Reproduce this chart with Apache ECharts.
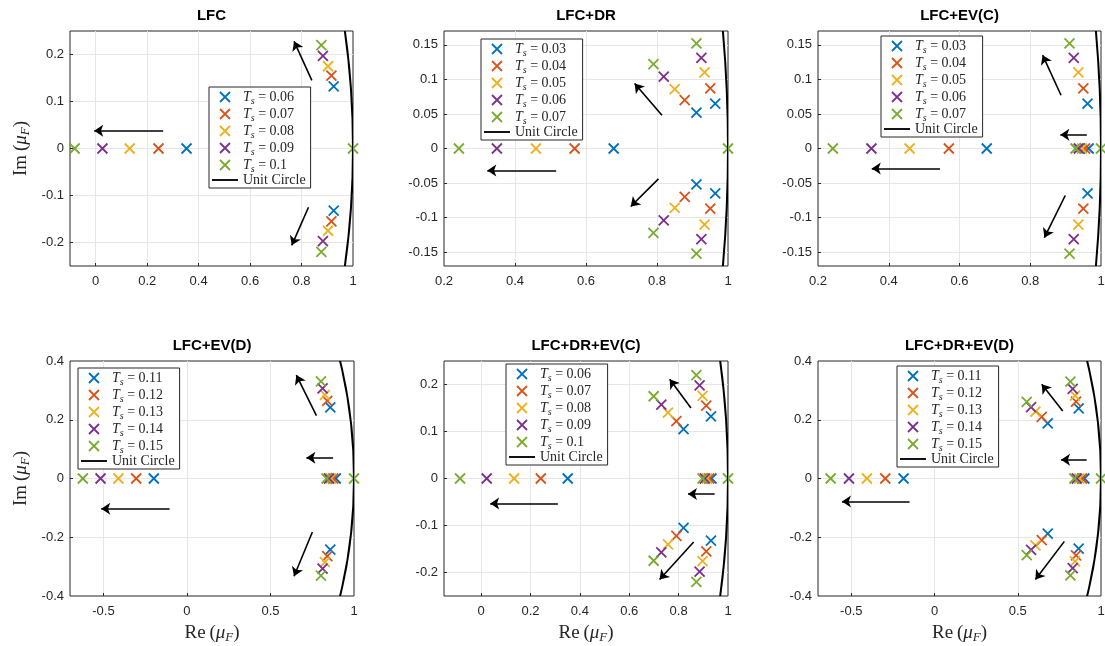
<!DOCTYPE html>
<html>
<head>
<meta charset="utf-8">
<script src="https://cdn.jsdelivr.net/npm/echarts@6/dist/echarts.min.js"></script>
<style>
  html, body { margin: 0; padding: 0; background: #fff; }
  #chart { width: 1105px; height: 646px; }
</style>
</head>
<body>
<div id="chart"></div>
<script>
// MATLAB default colour order
const colors = ['#0072BD', '#D95319', '#EDB120', '#7E2F8E', '#77AC30'];

const titles = ['LFC', 'LFC+DR', 'LFC+EV(C)', 'LFC+EV(D)', 'LFC+DR+EV(C)', 'LFC+DR+EV(D)'];

const tsLabels = [
  ['0.06', '0.07', '0.08', '0.09', '0.1'],
  ['0.03', '0.04', '0.05', '0.06', '0.07'],
  ['0.03', '0.04', '0.05', '0.06', '0.07'],
  ['0.11', '0.12', '0.13', '0.14', '0.15'],
  ['0.06', '0.07', '0.08', '0.09', '0.1'],
  ['0.11', '0.12', '0.13', '0.14', '0.15']
];

// poles [re, im] per Ts, in legend order
const polesLFC = [
  [[0.353, 0], [0.925, 0.132], [0.925, -0.132]],
  [[0.244, 0], [0.916, 0.155], [0.916, -0.155]],
  [[0.132, 0], [0.903, 0.175], [0.903, -0.175]],
  [[0.026, 0], [0.883, 0.197], [0.883, -0.197]],
  [[-0.082, 0], [0.877, 0.220], [0.877, -0.220], [1, 0]]
];
const polesLFCDR = [
  [[0.678, 0], [0.911, 0.052], [0.911, -0.052], [0.964, 0.065], [0.964, -0.065]],
  [[0.568, 0], [0.878, 0.070], [0.878, -0.070], [0.950, 0.087], [0.950, -0.087]],
  [[0.459, 0], [0.850, 0.086], [0.850, -0.086], [0.934, 0.110], [0.934, -0.110]],
  [[0.349, 0], [0.819, 0.104], [0.819, -0.104], [0.925, 0.131], [0.925, -0.131]],
  [[0.242, 0], [0.790, 0.122], [0.790, -0.122], [0.911, 0.152], [0.911, -0.152], [1, 0]]
];
const polesLFCEVC = [
  [[0.677, 0], [0.965, 0], [0.962, 0.065], [0.962, -0.065]],
  [[0.570, 0], [0.955, 0], [0.950, 0.087], [0.950, -0.087]],
  [[0.459, 0], [0.946, 0], [0.936, 0.110], [0.936, -0.110]],
  [[0.351, 0], [0.937, 0], [0.923, 0.131], [0.923, -0.131]],
  [[0.242, 0], [0.928, 0], [0.911, 0.152], [0.911, -0.152], [1, 0]]
];
const polesLFCEVD = [
  [[-0.198, 0], [0.891, 0], [0.858, 0.242], [0.858, -0.242]],
  [[-0.304, 0], [0.876, 0], [0.840, 0.264], [0.840, -0.264]],
  [[-0.410, 0], [0.862, 0], [0.826, 0.285], [0.826, -0.285]],
  [[-0.517, 0], [0.850, 0], [0.812, 0.307], [0.812, -0.307]],
  [[-0.623, 0], [0.836, 0], [0.802, 0.331], [0.802, -0.331], [1, 0]]
];
const polesLFCDREVC = [
  [[0.351, 0], [0.933, 0], [0.820, 0.105], [0.820, -0.105], [0.931, 0.132], [0.931, -0.132]],
  [[0.242, 0], [0.924, 0], [0.791, 0.122], [0.791, -0.122], [0.912, 0.155], [0.912, -0.155]],
  [[0.134, 0], [0.915, 0], [0.757, 0.140], [0.757, -0.140], [0.897, 0.176], [0.897, -0.176]],
  [[0.023, 0], [0.906, 0], [0.730, 0.157], [0.730, -0.157], [0.885, 0.198], [0.885, -0.198]],
  [[-0.085, 0], [0.897, 0], [0.699, 0.175], [0.699, -0.175], [0.872, 0.220], [0.872, -0.220], [1, 0]]
];
const polesLFCDREVD = [
  [[-0.186, 0], [0.900, 0], [0.680, 0.188], [0.680, -0.188], [0.866, 0.239], [0.866, -0.239]],
  [[-0.296, 0], [0.886, 0], [0.644, 0.210], [0.644, -0.210], [0.850, 0.262], [0.850, -0.262]],
  [[-0.406, 0], [0.870, 0], [0.606, 0.228], [0.606, -0.228], [0.844, 0.282], [0.844, -0.282]],
  [[-0.514, 0], [0.854, 0], [0.580, 0.243], [0.580, -0.243], [0.830, 0.305], [0.830, -0.305]],
  [[-0.624, 0], [0.840, 0], [0.554, 0.261], [0.554, -0.261], [0.816, 0.330], [0.816, -0.330], [1, 0]]
];
const poles = [polesLFC, polesLFCDR, polesLFCEVC, polesLFCEVD, polesLFCDREVC, polesLFCDREVD];

// annotation arrows [from, to] in data units
const arrows = [
  [[[0.840, 0.145], [0.771, 0.228]], [[0.827, -0.125], [0.762, -0.206]], [[0.262, 0.038], [-0.006, 0.038]]],
  [[[0.814, 0.048], [0.737, 0.094]], [[0.804, -0.044], [0.726, -0.084]], [[0.516, -0.032], [0.322, -0.032]]],
  [[[0.887, 0.077], [0.835, 0.135]], [[0.899, -0.068], [0.840, -0.129]], [[0.960, 0.020], [0.885, 0.020]], [[0.545, -0.029], [0.352, -0.029]]],
  [[[0.775, 0.214], [0.655, 0.352]], [[0.751, -0.182], [0.641, -0.333]], [[0.875, 0.071], [0.715, 0.071]], [[-0.104, -0.103], [-0.513, -0.103]]],
  [[[0.850, 0.150], [0.764, 0.211]], [[0.861, -0.135], [0.723, -0.215]], [[0.946, -0.033], [0.838, -0.033]], [[0.311, -0.053], [0.037, -0.053]]],
  [[[0.770, 0.230], [0.644, 0.321]], [[0.780, -0.214], [0.606, -0.344]], [[0.914, 0.064], [0.760, 0.064]], [[-0.150, -0.078], [-0.556, -0.078]]]
];

// unit circle: centre x, centre y, radius
const unitCircle = [[0, 0, 1]];

const xRanges = [[-0.1, 1], [0.2, 1], [0.2, 1], [-0.7, 1], [-0.15, 1], [-0.7, 1]];
const yRanges = [[-0.25, 0.25], [-0.17, 0.17], [-0.17, 0.17], [-0.4, 0.4], [-0.25, 0.25], [-0.4, 0.4]];
const xTicks = [
  [0, 0.2, 0.4, 0.6, 0.8, 1],
  [0.2, 0.4, 0.6, 0.8, 1],
  [0.2, 0.4, 0.6, 0.8, 1],
  [-0.5, 0, 0.5, 1],
  [0, 0.2, 0.4, 0.6, 0.8, 1],
  [-0.5, 0, 0.5, 1]
];
const yTicks = [
  [-0.2, -0.1, 0, 0.1, 0.2],
  [-0.15, -0.1, -0.05, 0, 0.05, 0.1, 0.15],
  [-0.15, -0.1, -0.05, 0, 0.05, 0.1, 0.15],
  [-0.4, -0.2, 0, 0.2, 0.4],
  [-0.2, -0.1, 0, 0.1, 0.2],
  [-0.4, -0.2, 0, 0.2, 0.4]
];

// layout
const grids = [
  { left: 70, top: 31, width: 283, height: 235 },
  { left: 444, top: 31, width: 284, height: 235 },
  { left: 818, top: 31, width: 283, height: 235 },
  { left: 70, top: 361, width: 284, height: 235 },
  { left: 444, top: 361, width: 284, height: 235 },
  { left: 818, top: 361, width: 283, height: 235 }
];
const legendPos = [[209, 87], [481, 39], [881, 36], [78, 368], [506, 364], [897, 366]];

const SERIF = "'Liberation Serif', 'DejaVu Serif', serif";
const SANS = "'Liberation Sans', Arial, sans-serif";
const AXIS_COLOR = '#262626';
const CROSS = 'path://M0 0L10 10M10 0L0 10';
const LINE_ICON = 'path://M0 0H28V2H0Z';

const inner = (vals, r) => vals.filter(v => v > r[0] + 1e-9 && v < r[1] - 1e-9);

const nameRich = {
  a: { fontFamily: SERIF, fontSize: 19, color: AXIS_COLOR, lineHeight: 22 },
  m: { fontFamily: SERIF, fontSize: 19, fontStyle: 'italic', color: AXIS_COLOR, lineHeight: 22 },
  f: { fontFamily: SERIF, fontSize: 13, fontStyle: 'italic', color: AXIS_COLOR, lineHeight: 12, padding: [10, 0, 0, 0] }
};

const option = {
  animation: false,
  backgroundColor: '#fff',
  title: [],
  grid: [],
  xAxis: [],
  yAxis: [],
  legend: [],
  series: []
};

grids.forEach((g, i) => {
  option.grid.push(Object.assign({
    show: true, borderColor: AXIS_COLOR, borderWidth: 1,
    backgroundColor: 'transparent', outerBoundsMode: 'none', containLabel: false
  }, g));

  option.title.push({
    text: titles[i],
    left: g.left + g.width / 2,
    top: g.top - 23,
    textAlign: 'center',
    padding: 0,
    textStyle: { fontFamily: SANS, fontSize: 15, fontWeight: 'bold', color: '#000' }
  });

  const xAx = {
    gridIndex: i, type: 'value', min: xRanges[i][0], max: xRanges[i][1],
    axisLine: { show: false, onZero: false },
    axisTick: { show: true, inside: true, length: 3, lineStyle: { color: AXIS_COLOR }, customValues: inner(xTicks[i], xRanges[i]) },
    axisLabel: { customValues: xTicks[i], color: AXIS_COLOR, fontFamily: SANS, fontSize: 13, margin: 9 },
    splitLine: { show: true, lineStyle: { color: '#e6e6e6', width: 1 } }
  };
  if (i >= 3) {
    xAx.name = '{a|Re\u2009(}{m|\u03bc}{f|F}{a|)}';
    xAx.nameLocation = 'middle';
    xAx.nameGap = 26;
    xAx.nameTextStyle = { rich: nameRich };
  }
  option.xAxis.push(xAx);

  const yAx = {
    gridIndex: i, type: 'value', min: yRanges[i][0], max: yRanges[i][1],
    axisLine: { show: false, onZero: false },
    axisTick: { show: true, inside: true, length: 3, lineStyle: { color: AXIS_COLOR }, customValues: inner(yTicks[i], yRanges[i]) },
    axisLabel: { customValues: yTicks[i], color: AXIS_COLOR, fontFamily: SANS, fontSize: 13, margin: 6 },
    splitLine: { show: true, lineStyle: { color: '#e6e6e6', width: 1 } }
  };
  if (i === 0 || i === 3) {
    yAx.name = '{a|Im\u2009(}{m|\u03bc}{f|F}{a|)}';
    yAx.nameLocation = 'middle';
    yAx.nameGap = 38;
    yAx.nameTextStyle = { rich: nameRich };
  }
  option.yAxis.push(yAx);

  const legendData = [];
  tsLabels[i].forEach((ts, k) => {
    const name = ts + '|' + i;
    legendData.push({ name, icon: CROSS, itemStyle: { color: colors[k], borderColor: colors[k], borderWidth: 1.8 } });
    option.series.push({
      name,
      type: 'scatter',
      xAxisIndex: i, yAxisIndex: i,
      symbol: CROSS,
      symbolSize: 10,
      itemStyle: { color: colors[k], borderColor: colors[k], borderWidth: 1.8, opacity: 1 },
      emphasis: { disabled: true },
      data: poles[i][k],
      z: 3
    });
  });

  const circleName = 'Unit Circle|' + i;
  legendData.push({ name: circleName, icon: LINE_ICON, itemStyle: { color: '#000', borderWidth: 0 } });
  option.series.push({
    name: circleName,
    type: 'custom',
    xAxisIndex: i, yAxisIndex: i,
    clip: true,
    silent: true,
    itemStyle: { color: '#000' },
    data: unitCircle,
    renderItem: (params, api) => {
      const c = api.coord([api.value(0), api.value(1)]);
      const r = api.value(2);
      const px = api.coord([api.value(0) + r, api.value(1)]);
      const py = api.coord([api.value(0), api.value(1) + r]);
      const rx = Math.abs(px[0] - c[0]);
      const ry = Math.abs(c[1] - py[1]);
      const d = 'M' + (c[0] - rx) + ' ' + c[1] +
        ' A' + rx + ' ' + ry + ' 0 1 0 ' + (c[0] + rx) + ' ' + c[1] +
        ' A' + rx + ' ' + ry + ' 0 1 0 ' + (c[0] - rx) + ' ' + c[1] + ' Z';
      return { type: 'path', shape: { pathData: d }, style: { fill: null, stroke: '#000', lineWidth: 2 } };
    },
    z: 4
  });

  option.series.push({
    type: 'lines',
    coordinateSystem: 'cartesian2d',
    xAxisIndex: i, yAxisIndex: i,
    silent: true,
    symbol: ['none', 'arrow'],
    symbolSize: 9,
    lineStyle: { color: '#000', width: 1.6, opacity: 1, curveness: 0 },
    data: arrows[i].map(a => ({ coords: a })),
    z: 5
  });

  option.legend.push({
    orient: 'vertical',
    left: legendPos[i][0], top: legendPos[i][1],
    data: legendData,
    selectedMode: false,
    backgroundColor: '#fff',
    borderColor: AXIS_COLOR, borderWidth: 1, borderRadius: 0,
    padding: [1, 5, 1, 3],
    itemWidth: 26, itemHeight: 10, itemGap: -1,
    symbolKeepAspect: true,
    formatter: name => {
      const label = name.split('|')[0];
      if (label === 'Unit Circle') return '{u|Unit Circle}';
      return '{t|T}{s|s}{n| = ' + label + '}';
    },
    textStyle: {
      color: AXIS_COLOR,
      rich: {
        t: { fontFamily: SERIF, fontSize: 14, fontStyle: 'italic', lineHeight: 17, color: AXIS_COLOR },
        s: { fontFamily: SERIF, fontSize: 10, fontStyle: 'italic', lineHeight: 9, padding: [8, 0, 0, 0], color: AXIS_COLOR },
        n: { fontFamily: SERIF, fontSize: 14, lineHeight: 17, color: AXIS_COLOR },
        u: { fontFamily: SERIF, fontSize: 14, lineHeight: 17, color: AXIS_COLOR }
      }
    },
    z: 10
  });
});

const chart = echarts.init(document.getElementById('chart'), null, { renderer: 'canvas' });
chart.setOption(option);
</script>
</body>
</html>
